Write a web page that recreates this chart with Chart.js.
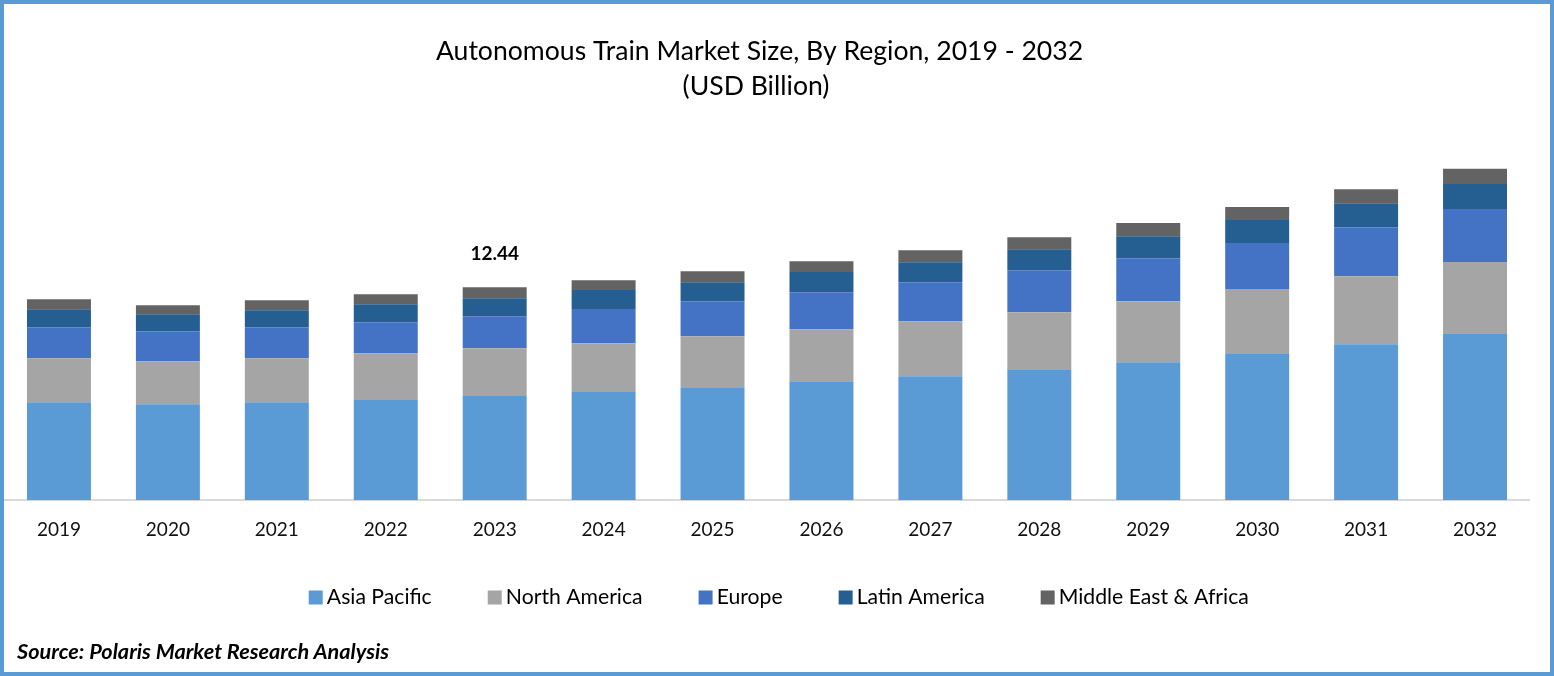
<!DOCTYPE html>
<html><head><meta charset="utf-8">
<script src="https://cdn.jsdelivr.net/npm/chart.js@4"></script>
<style>
html,body{margin:0;padding:0;background:#fff;overflow:hidden}
#wrap{position:relative;width:1554px;height:676px;background:#fff}
canvas{position:absolute;left:0;top:0}
#frame{position:absolute;inset:0;border:4px solid #5b9bd5;box-sizing:border-box;pointer-events:none}
#source{position:absolute;left:17px;top:638px;font:italic 700 21.7px/26px Lato,sans-serif;color:#000;white-space:nowrap}
</style></head>
<body><div id="wrap"><canvas id="c" width="1554" height="676"></canvas><div id="frame"></div><div id="source">Source: Polaris Market Research Analysis</div></div>
<script>
const categories=["2019","2020","2021","2022","2023","2024","2025","2026","2027","2028","2029","2030","2031","2032"];
const asiaPacific=[5.72,5.61,5.72,5.90,6.13,6.37,6.60,6.95,7.24,7.65,8.06,8.59,9.11,9.70];
const northAmerica=[2.57,2.51,2.57,2.69,2.75,2.80,2.98,3.04,3.21,3.33,3.56,3.74,3.97,4.21];
const europe=[1.81,1.75,1.81,1.81,1.87,1.99,2.04,2.16,2.28,2.45,2.51,2.69,2.86,3.10];
const latinAmerica=[1.05,0.99,0.99,1.05,1.05,1.11,1.11,1.17,1.17,1.23,1.29,1.34,1.40,1.46];
const middleEastAfrica=[0.58,0.53,0.58,0.58,0.64,0.58,0.64,0.64,0.70,0.70,0.76,0.76,0.82,0.88];
const titleLines=["Autonomous Train Market Size, By Region, 2019 - 2032","(USD Billion)"];
const annotatedYear="2023", annotatedText="12.44";
const FONT="Lato, sans-serif";

const overlay={id:'overlay',
 afterLayout(chart){
  const l=chart.legend; l.top-=18; l.bottom-=18; l.left+=15; l.right+=15;
 },
 afterDraw(chart){
  const ctx=chart.ctx;ctx.save();ctx.fillStyle='#000';ctx.textAlign='center';ctx.textBaseline='middle';
  ctx.font='26.6px '+FONT;
  ctx.fillText(titleLines[0],759.5,51);
  ctx.fillText(titleLines[1],756,86);
  const i=categories.indexOf(annotatedYear);
  const x=chart.getDatasetMeta(0).data[i].x;
  ctx.font='700 19px '+FONT;
  ctx.fillText(annotatedText,x,254);
  ctx.restore();
}};

const mk=(label,data,color)=>({label,data,backgroundColor:color,borderWidth:0,stack:'s'});
new Chart(document.getElementById('c'),{
  type:'bar',
  data:{labels:categories,datasets:[
    mk('Asia Pacific',asiaPacific,'#5B9BD5'),
    mk('North America',northAmerica,'#A5A5A5'),
    mk('Europe',europe,'#4472C4'),
    mk('Latin America',latinAmerica,'#255E91'),
    mk('Middle East & Africa',middleEastAfrica,'#636363')]},
  options:{
    responsive:false,animation:false,devicePixelRatio:1,
    layout:{padding:{left:4.5,right:24.5,top:123.4,bottom:40}},
    datasets:{bar:{categoryPercentage:1,barPercentage:64/109}},
    plugins:{
      title:{display:false},tooltip:{enabled:false},
      legend:{display:true,position:'bottom',labels:{
        color:'#111',font:{family:FONT,size:21.2},padding:62.5,boxWidth:1,boxHeight:1,
        generateLabels(chart){return chart.data.datasets.map((d,i)=>({text:d.label,fillStyle:d.backgroundColor,strokeStyle:d.backgroundColor,lineWidth:13,lineJoin:'miter',datasetIndex:i}));}
      }}
    },
    scales:{
      x:{stacked:true,grid:{display:false,drawTicks:false},border:{display:true,color:'#d9d9d9',width:2},
        ticks:{color:'#111',font:{family:FONT,size:19},padding:18,maxRotation:0},
        afterFit(s){s.height=42;}},
      y:{stacked:true,display:false,min:0,max:22}
    }
  },
  plugins:[overlay]
});
</script></body></html>
